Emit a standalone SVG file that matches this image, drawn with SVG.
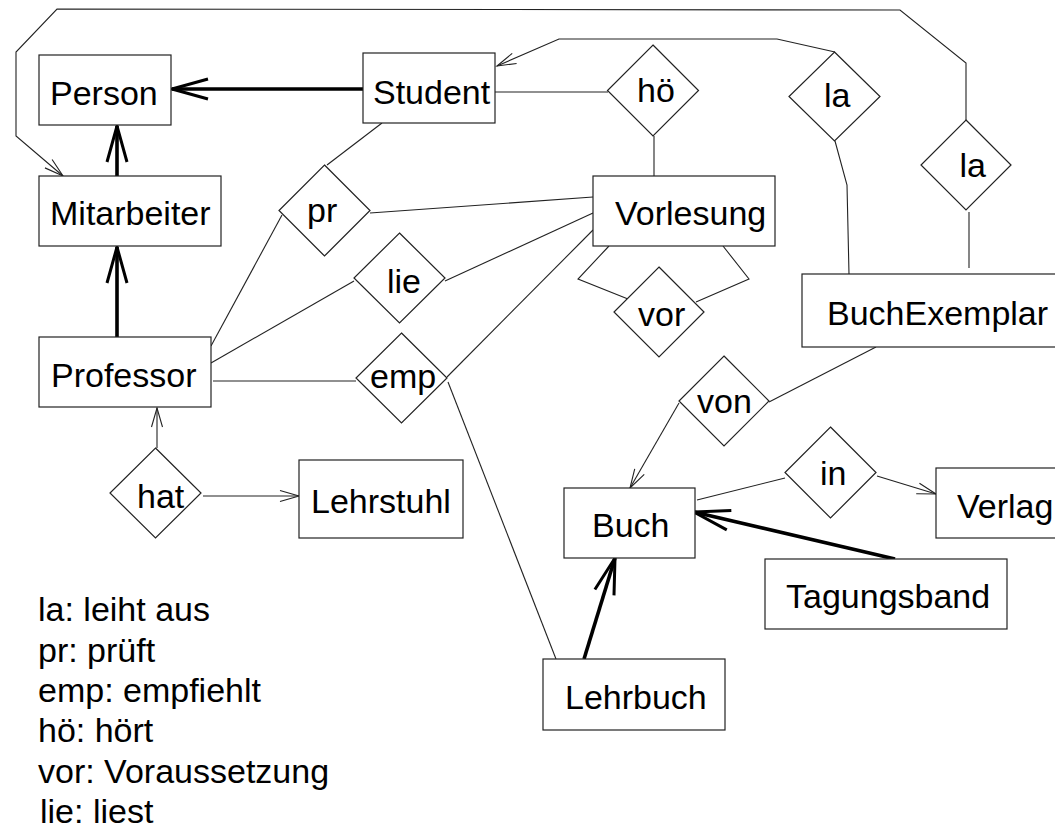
<svg xmlns="http://www.w3.org/2000/svg" width="1055" height="830" viewBox="0 0 1055 830">
<style>
  .box { fill: #fff; stroke: #222; stroke-width: 1.2; }
  .dia { fill: #fff; stroke: #222; stroke-width: 1.2; }
  .lbl { font-family: "Liberation Sans", Arial, sans-serif; font-size: 34px; fill: #000; }
  .thin { fill: none; stroke: #222; stroke-width: 1.1; }
  .thick { fill: none; stroke: #000; stroke-width: 3.6; }
</style>
<defs>
  <marker id="thickArrow" viewBox="-40 -14 44 28" markerWidth="44" markerHeight="28" refX="0" refY="0" orient="auto" markerUnits="userSpaceOnUse">
    <path d="M-36,-10 L0,0 L-36,10" fill="none" stroke="#000" stroke-width="3"/>
  </marker>
  <marker id="thinArrow" viewBox="-22 -8 24 16" markerWidth="24" markerHeight="16" refX="0" refY="0" orient="auto" markerUnits="userSpaceOnUse">
    <path d="M-19,-5.5 L0,0 L-19,5.5" fill="none" stroke="#222" stroke-width="1.1"/>
  </marker>
</defs>
<rect width="1055" height="830" fill="#fff"/>

<g id="connectors">
  <path class="thick" d="M363,89 L172,89" marker-end="url(#thickArrow)"/>
  <path class="thick" d="M117,176 L117,126" marker-end="url(#thickArrow)"/>
  <path class="thick" d="M117,337 L117,247" marker-end="url(#thickArrow)"/>
  <path class="thick" d="M895,559 L694,512" marker-end="url(#thickArrow)"/>
  <path class="thick" d="M584,659 L615,558" marker-end="url(#thickArrow)"/>
  <path class="thin" d="M157,448 L157,408" marker-end="url(#thinArrow)"/>
  <path class="thin" d="M203,496 L299,496" marker-end="url(#thinArrow)"/>
  <path class="thin" d="M966,120 L966,63 L900,10 L57,9 L16,52 L16,136 L63,176" marker-end="url(#thinArrow)"/>
  <path class="thin" d="M969,212 L969,268"/>
  <path class="thin" d="M835,52 L777,39 L559,39 L497,66" marker-end="url(#thinArrow)"/>
  <path class="thin" d="M835,141 L847,185 L849,274"/>
  <path class="thin" d="M495,92 L608,92"/>
  <path class="thin" d="M654,136 L654,176"/>
  <path class="thin" d="M382,123 L327,165"/>
  <path class="thin" d="M370,213 L593,197"/>
  <path class="thin" d="M282,215 L211,346"/>
  <path class="thin" d="M211,363 L354,281"/>
  <path class="thin" d="M445,281 L593,213"/>
  <path class="thin" d="M213,381 L356,381"/>
  <path class="thin" d="M447,377 L593,230"/>
  <path class="thin" d="M448,382 L556,659"/>
  <path class="thin" d="M609,246 L578,279 L628,299"/>
  <path class="thin" d="M723,246 L749,279 L696,302"/>
  <path class="thin" d="M876,347 L769,402"/>
  <path class="thin" d="M679,403 L630,488" marker-end="url(#thinArrow)"/>
  <path class="thin" d="M697,500 L785,478"/>
  <path class="thin" d="M877,476 L936,494" marker-end="url(#thinArrow)"/>
</g>

<g id="Person"><rect class="box" x="39" y="55" width="132" height="70"/><text class="lbl" x="50" y="105">Person</text></g>
<g id="Mitarbeiter"><rect class="box" x="39" y="176" width="182" height="70"/><text class="lbl" x="50" y="225">Mitarbeiter</text></g>
<g id="Student"><rect class="box" x="363" y="53" width="132" height="70"/><text class="lbl" x="373" y="104">Student</text></g>
<g id="Vorlesung"><rect class="box" x="593" y="176" width="182" height="70"/><text class="lbl" x="615" y="225">Vorlesung</text></g>
<g id="Professor"><rect class="box" x="39" y="337" width="172" height="70"/><text class="lbl" x="51" y="387">Professor</text></g>
<g id="Lehrstuhl"><rect class="box" x="299" y="460" width="164" height="78"/><text class="lbl" x="311" y="513">Lehrstuhl</text></g>
<g id="BuchExemplar"><rect class="box" x="802" y="274" width="270" height="73"/><text class="lbl" x="827" y="325">BuchExemplar</text></g>
<g id="Buch"><rect class="box" x="564" y="488" width="131" height="70"/><text class="lbl" x="592" y="537">Buch</text></g>
<g id="Verlag"><rect class="box" x="936" y="468" width="130" height="70"/><text class="lbl" x="957" y="518">Verlag</text></g>
<g id="Tagungsband"><rect class="box" x="765" y="559" width="242" height="70"/><text class="lbl" x="786" y="608">Tagungsband</text></g>
<g id="Lehrbuch"><rect class="box" x="543" y="659" width="182" height="71"/><text class="lbl" x="565" y="709">Lehrbuch</text></g>

<g id="hoe"><polygon class="dia" points="653,45 698.5,90.5 653,136 607.5,90.5"/><text class="lbl" x="637" y="102">hö</text></g>
<g id="la1"><polygon class="dia" points="834.5,52 880,96.5 834.5,141 789,96.5"/><text class="lbl" x="824" y="107">la</text></g>
<g id="la2"><polygon class="dia" points="966,120 1011,165 966,210 921,165"/><text class="lbl" x="959.5" y="177">la</text></g>
<g id="pr"><polygon class="dia" points="324.5,165 370,210.5 324.5,256 279,210.5"/><text class="lbl" x="307" y="222">pr</text></g>
<g id="lie"><polygon class="dia" points="399.5,233 445,278 399.5,323 354,278"/><text class="lbl" x="387" y="293">lie</text></g>
<g id="emp"><polygon class="dia" points="401.5,333 447,378 401.5,423 356,378"/><text class="lbl" x="370" y="388">emp</text></g>
<g id="hat"><polygon class="dia" points="155.5,448 201,493 155.5,538 110,493"/><text class="lbl" x="137" y="508">hat</text></g>
<g id="vor"><polygon class="dia" points="659,267 704,312 659,357 614,312"/><text class="lbl" x="638" y="326">vor</text></g>
<g id="von"><polygon class="dia" points="724,356 769,401 724,446 679,401"/><text class="lbl" x="697" y="413">von</text></g>
<g id="in"><polygon class="dia" points="830.5,427 876,472.5 830.5,518 785,472.5"/><text class="lbl" x="820" y="485">in</text></g>

<g id="legend">
  <text class="lbl" x="38" y="621">la: leiht aus</text>
  <text class="lbl" x="38" y="662">pr: prüft</text>
  <text class="lbl" x="38" y="702">emp: empfiehlt</text>
  <text class="lbl" x="38" y="742">hö: hört</text>
  <text class="lbl" x="38" y="783">vor: Voraussetzung</text>
  <text class="lbl" x="40" y="823">lie: liest</text>
</g>
</svg>
